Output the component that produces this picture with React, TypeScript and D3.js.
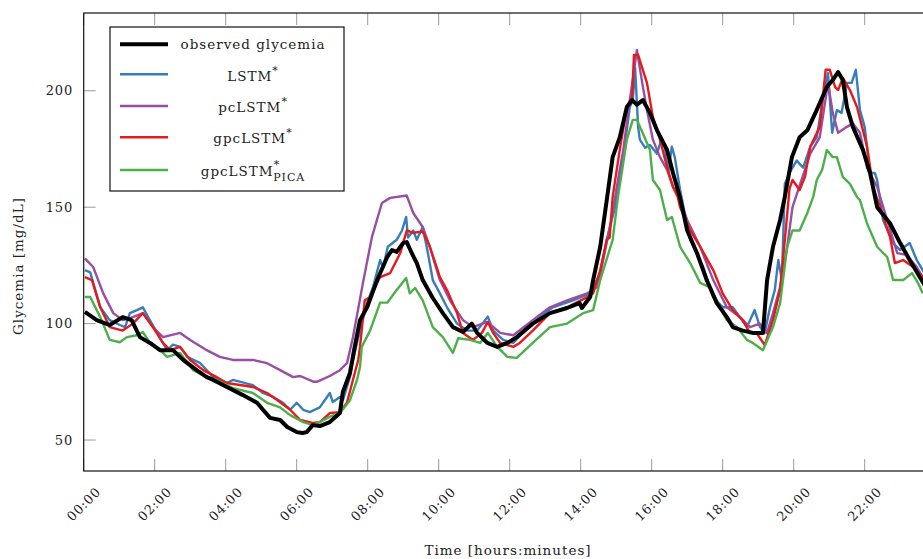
import React from "react";
import * as d3 from "d3";

// time in minutes since 00:00, glycemia in mg/dL
const observed: [number, number][] = [[2,105],[22,101.5],[44,99.4],[66,102.8],[81,101.5],[95,94.2],[112,91.7],[129,88.6],[151,88.6],[168,84.4],[191,80],[208,77],[219,75.8],[242,72.8],[269,69.3],[293,66],[303,63],[315,59.5],[332,58.6],[344,55.6],[360,53.4],[370,53],[377,53.4],[387,56.4],[399,56],[416,57.7],[433,61.6],[438,70.6],[450,78.8],[458,90],[467,101.5],[479,107],[496,118.7],[513,128.6],[521,131.6],[529,130.8],[540,134.6],[546,135],[555,130],[563,126],[573,118.7],[590,111],[607,104.5],[624,98.5],[641,96.4],[656,100],[665,96],[682,91.7],[699,90],[716,91.7],[732,94.2],[759,100],[788,104.5],[817,106.7],[838,108.8],[842,106.7],[856,111.4],[861,118.7],[873,133],[884,153],[894,171.5],[906,180],[918,193],[927,196],[935,194],[945,196],[957,190.5],[969,183],[986,174.6],[996,164.7],[1008,154],[1020,140],[1037,130],[1053,118.7],[1070,108.8],[1087,102.8],[1097,98.5],[1114,97],[1131,96],[1148,96],[1155,118.7],[1165,133],[1177,144.5],[1185,154.4],[1197,171.5],[1210,180],[1223,183],[1239,191.8],[1256,201.6],[1266,204.6],[1275,208],[1283,204.6],[1290,193],[1300,184.5],[1317,174.6],[1329,164.7],[1341,150],[1363,143],[1380,134.6],[1396,127.3],[1413,120],[1425,115]];

const lstm: [number, number][] = [[2,123],[11,122],[28,107],[44,101.5],[61,99.4],[70,98.5],[78,104.5],[90,105.8],[100,107],[109,102.8],[124,96],[141,88.6],[151,91],[163,90],[175,85.7],[197,83],[219,77],[242,74.5],[252,75.8],[286,73.6],[303,70.2],[320,68.5],[337,66],[349,63],[360,66],[371,63],[382,62],[399,64],[416,70.2],[421,66.3],[433,68.5],[438,67],[450,77],[455,84],[464,94],[479,109],[489,115.7],[501,127.3],[506,124],[514,133],[529,136],[538,140],[545,145.8],[548,137],[557,140],[563,136],[573,141.5],[582,130],[590,118.7],[602,113],[614,107],[631,100],[648,97],[665,97],[683,103],[692,97],[709,93],[726,91.7],[742,96],[771,103],[793,107],[827,110],[856,113],[873,121.7],[884,136],[898,150],[906,164.7],[915,177.6],[923,193],[928,196],[932,209.8],[937,184.5],[940,179],[949,175.5],[957,176.7],[969,173],[977,179.7],[982,176],[988,164.7],[994,176],[999,171.5],[1008,157.4],[1025,136],[1047,124.3],[1064,111.4],[1080,107],[1097,107],[1109,102.8],[1121,98.5],[1134,105.8],[1143,98.5],[1151,96],[1160,107],[1168,114.4],[1174,127.3],[1180,118.7],[1185,160],[1193,164.7],[1205,170],[1216,167],[1228,176],[1239,180],[1249,196],[1258,207.6],[1265,182],[1273,191.7],[1281,190.5],[1290,203.4],[1298,203.4],[1305,209],[1312,191.7],[1320,184.5],[1329,164.7],[1337,164.7],[1341,161.7],[1351,144.5],[1368,134.6],[1380,131.6],[1396,134.6],[1408,127.3],[1418,123],[1425,120]];

const pclstm: [number, number][] = [[2,128],[16,124.3],[33,113],[50,104.5],[66,101.5],[83,102.8],[100,104.5],[117,98.5],[134,94.2],[163,96],[180,93],[208,88.6],[230,85.7],[252,84.4],[286,84.4],[310,83],[332,80],[354,77],[366,77.5],[389,75],[394,75],[416,77.5],[433,80],[445,83],[455,94],[472,117.5],[487,137],[504,151.8],[518,154],[546,155],[557,147.5],[573,141.5],[585,133],[602,118.7],[619,110],[641,101.5],[658,98.5],[682,100.7],[704,96],[726,95],[759,101.5],[788,107],[817,110],[851,113],[868,115.7],[878,127.3],[894,147.5],[901,158.7],[912,174.6],[923,196],[935,217.5],[944,203.4],[952,191.7],[962,179],[974,171.5],[986,166],[996,158.7],[1003,156],[1020,144.5],[1042,133],[1064,118.7],[1087,107],[1109,102.8],[1126,98.5],[1143,100],[1155,96],[1165,104.5],[1177,115.7],[1189,133],[1198,150],[1228,173],[1244,180],[1258,203.4],[1266,190.5],[1275,182],[1290,184.5],[1300,186],[1312,182],[1324,167],[1341,158.7],[1358,144.5],[1375,130.3],[1391,129.5],[1408,124.3],[1418,120],[1425,118]];

const gpclstm: [number, number][] = [[2,120],[14,118.7],[28,107],[44,98.5],[66,97],[83,100],[100,104.5],[117,98.5],[134,91.7],[146,88.6],[163,90],[180,84.4],[202,80],[225,77],[242,74.5],[286,72.8],[310,70.2],[327,67.2],[349,63],[366,58.6],[387,57.3],[399,57.7],[416,61.6],[433,62],[445,66],[455,75.8],[464,84.4],[467,90],[475,110],[484,111.4],[501,120],[518,121.7],[535,130.3],[546,140],[557,139],[573,139.5],[585,133],[602,120],[614,114.4],[631,104.5],[641,96],[658,93],[673,96],[683,100.7],[692,96],[704,91.7],[726,90],[737,91.7],[759,97],[788,104.5],[817,107],[851,111.4],[861,113],[873,123],[884,136],[889,137],[894,154.4],[906,174.6],[918,193],[927,197.3],[930,215.4],[937,215.4],[952,203.4],[962,188.7],[974,179],[986,167.2],[996,158.7],[1004,154.4],[1008,150],[1025,140],[1042,133],[1064,123],[1080,113],[1097,105.8],[1114,101.5],[1126,96],[1137,96],[1151,90.8],[1165,101.5],[1177,114.4],[1185,136],[1193,158],[1198,161.7],[1210,157.4],[1219,163],[1228,176],[1244,184.5],[1254,209],[1261,209],[1270,201.6],[1275,200.3],[1283,205.5],[1295,200.3],[1307,193],[1324,176],[1334,158.7],[1346,150],[1363,137],[1371,126],[1385,127.3],[1402,124.3],[1418,120],[1425,118]];

const gpclstmPica: [number, number][] = [[2,111.4],[11,111.4],[28,102.8],[44,93],[61,92],[73,94.2],[90,95],[100,96.4],[112,91.7],[129,88.6],[141,85.7],[163,87.4],[185,80],[208,77],[225,75.8],[252,72.3],[286,70.2],[310,66],[332,64],[349,60.7],[371,57.7],[387,56.4],[399,57.7],[416,60],[433,61.6],[450,67],[462,75.8],[467,81.4],[470,90],[484,97],[501,109],[513,109],[529,114.4],[545,119.6],[551,113],[560,115.3],[573,110],[590,98.5],[607,94.2],[624,87.4],[633,93.7],[653,93],[670,91.7],[683,96],[699,90],[716,85.7],[732,85.3],[759,91.7],[788,98.5],[817,100],[844,104.5],[861,105.8],[873,118.7],[894,136],[903,154.4],[918,179],[928,187.5],[935,187.5],[945,181.8],[957,174.6],[962,161.7],[974,157.4],[986,144.5],[994,145.8],[1008,133],[1025,126],[1042,117.5],[1058,115.7],[1070,110],[1087,101.5],[1104,98.5],[1121,93],[1131,91.7],[1148,88.6],[1165,98.5],[1177,108.8],[1189,133],[1198,140],[1210,140],[1223,147.5],[1233,154.4],[1239,161.7],[1248,166],[1256,174.6],[1266,171.5],[1273,171.5],[1283,163],[1295,160],[1307,154.4],[1312,153],[1324,143],[1341,133],[1358,128.6],[1368,118.7],[1385,118.7],[1400,121.7],[1410,117.5],[1418,113]];

const xTickHours = [0, 2, 4, 6, 8, 10, 12, 14, 16, 18, 20, 22];
const yTickValues = [50, 100, 150, 200];

const series = [
  { name: "observed", data: observed, color: "#000000", width: 4 },
  { name: "LSTM", data: lstm, color: "#377eb8", width: 2.4 },
  { name: "pcLSTM", data: pclstm, color: "#984ea3", width: 2.4 },
  { name: "gpcLSTM", data: gpclstm, color: "#e41a1c", width: 2.4 },
  { name: "gpcLSTM_PICA", data: gpclstmPica, color: "#4daf4a", width: 2.4 },
];

const FONT = "'DejaVu Serif', serif";
const FS = 13.5;
const LS = 1;

export default function App() {
  const left = 83.7, right = 935.7, top = 13, bottom = 471;
  const x = d3.scaleLinear().domain([0, 1440]).range([left, right]);
  const y = d3.scaleLinear().domain([36.7, 233.4]).range([bottom, top]);
  const line = d3.line<[number, number]>().x(d => x(d[0])).y(d => y(d[1]));
  const drawOrder = [series[1], series[2], series[3], series[4], series[0]];
  const legendRows = [0, 1, 2, 3, 4];
  const rowY = [44.3, 74.3, 106, 137.3, 170];
  const baseY = [48.5, 80.5, 111.7, 143.3, 176];
  const tickColor = "#9a9a9a";
  const fmt = (h: number) => (h < 10 ? "0" + h : "" + h) + ":00";

  return (
    <svg width={923} height={559} style={{ position: "absolute", left: 0, top: 0, background: "#fff" }}
      fontFamily={FONT} fontSize={FS}>
      <defs>
        <clipPath id="plotclip">
          <rect x={left} y={top} width={right - left} height={bottom - top} />
        </clipPath>
      </defs>
      <rect x={0} y={0} width={923} height={559} fill="#fff" />
      {xTickHours.map(h => (
        <g key={"xt" + h}>
          <line x1={x(h * 60)} x2={x(h * 60)} y1={bottom} y2={bottom - 12} stroke={tickColor} strokeWidth={1} />
          <line x1={x(h * 60)} x2={x(h * 60)} y1={top} y2={top + 12} stroke={tickColor} strokeWidth={1} />
          <text transform={`translate(${x(h * 60)},${504}) rotate(-45)`} textAnchor="middle" dy="0.35em"
            fontSize={13} letterSpacing={0.8} fill="#222">{fmt(h)}</text>
        </g>
      ))}
      {yTickValues.map(v => (
        <g key={"yt" + v}>
          <line x1={left} x2={left + 12} y1={y(v)} y2={y(v)} stroke={tickColor} strokeWidth={1} />
          <line x1={right} x2={right - 12} y1={y(v)} y2={y(v)} stroke={tickColor} strokeWidth={1} />
          <text x={73} y={y(v)} textAnchor="end" dy="0.35em" fontSize={13} letterSpacing={0.8} fill="#222">{v}</text>
        </g>
      ))}
      <g clipPath="url(#plotclip)">
        {drawOrder.map(s => (
          <path key={s.name} d={line(s.data) || ""} fill="none" stroke={s.color} strokeWidth={s.width}
            strokeLinejoin="round" />
        ))}
      </g>
      <rect x={left} y={top} width={right - left} height={bottom - top} fill="none" stroke="#111" strokeWidth={1.2} />
      <rect x={110} y={27} width={234} height={164} fill="#fff" stroke="#111" strokeWidth={1.2} />
      {legendRows.map(i => (
        <line key={"ll" + i} x1={120} x2={168} y1={rowY[i]} y2={rowY[i]} stroke={series[i].color}
          strokeWidth={i === 0 ? 4 : 2.4} />
      ))}
      <text x={253} y={baseY[0]} textAnchor="middle" letterSpacing={LS} fill="#222">observed glycemia</text>
      <text x={253} y={baseY[1]} textAnchor="middle" letterSpacing={LS} fill="#222">LSTM<tspan dy={-7} fontSize={11}>*</tspan></text>
      <text x={253} y={baseY[2]} textAnchor="middle" letterSpacing={LS} fill="#222">pcLSTM<tspan dy={-7} fontSize={11}>*</tspan></text>
      <text x={253} y={baseY[3]} textAnchor="middle" letterSpacing={LS} fill="#222">gpcLSTM<tspan dy={-7} fontSize={11}>*</tspan></text>
      <text x={253} y={baseY[4]} textAnchor="middle" letterSpacing={LS} fill="#222">gpcLSTM<tspan dy={-8} fontSize={11}>*</tspan><tspan dx={-7} dy={13} fontSize={11}>PICA</tspan></text>
      <text transform={`translate(18,266) rotate(-90)`} textAnchor="middle" dy="0.35em" letterSpacing={LS} fill="#222">Glycemia [mg/dL]</text>
      <text x={508} y={555} textAnchor="middle" letterSpacing={LS} fill="#222">Time [hours:minutes]</text>
    </svg>
  );
}
